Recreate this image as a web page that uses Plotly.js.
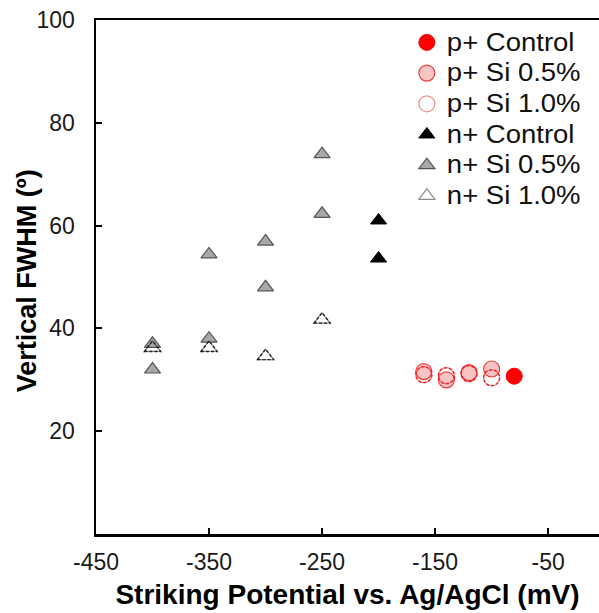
<!DOCTYPE html>
<html>
<head>
<meta charset="utf-8">
<script src="https://cdn.plot.ly/plotly-3.0.1.min.js"></script>
<style>
html,body{margin:0;padding:0;background:#fff;overflow:hidden;}
#chart{width:599px;height:613px;}
#chart .legend .scrollbox, #chart .legend g{clip-path:none !important;}
#chart .legend .legendtext{font-size:25px !important;transform-box:fill-box;transform-origin:0% 50%;transform:scaleX(1.1);}
</style>
</head>
<body>
<div id="chart"></div>
<script>
// Data
const seriesNames = ["p+ Control", "p+ Si 0.5%", "p+ Si 1.0%", "n+ Control", "n+ Si 0.5%", "n+ Si 1.0%"];

const pControlX = [-80];
const pControlY = [30.7];

const pSi05X = [-160, -140, -120, -100];
const pSi05Y = [31.6, 30.0, 31.4, 32.1];

const pSi10X = [-160, -140, -120, -100];
const pSi10Y = [31.0, 30.8, 31.2, 30.4];

const nControlX = [-200, -200];
const nControlY = [61.0, 53.6];

const nSi05X = [-400, -400, -350, -350, -300, -300, -250, -250];
const nSi05Y = [37.0, 32.0, 54.4, 38.0, 56.9, 48.0, 73.9, 62.3];

const nSi10X = [-400, -350, -300, -250];
const nSi10Y = [36.2, 36.2, 34.6, 41.7];

const xTickVals = [-450, -350, -250, -150, -50];
const yTickVals = [20, 40, 60, 80, 100];

const xTitle = "Striking Potential vs. Ag/AgCl (mV)";
const yTitle = "Vertical FWHM (º)";

const FONT = "Liberation Sans, Arial, Helvetica, sans-serif";

const traces = [
  {x: pControlX, y: pControlY, name: seriesNames[0], mode: "markers", type: "scatter",
   marker: {symbol: "circle", size: 16, color: "#ff0000", line: {color: "#ff0000", width: 1}}},
  {x: pSi05X, y: pSi05Y, name: seriesNames[1], mode: "markers", type: "scatter",
   marker: {symbol: "circle", size: 16, color: "#f9c4c4", line: {color: "#ee3b3b", width: 1.2}}},
  {x: pSi10X, y: pSi10Y, name: seriesNames[2], mode: "markers", type: "scatter",
   marker: {symbol: "circle", size: 16, color: "rgba(255,255,255,0)", line: {color: "rgba(238,34,34,0.55)", width: 1.2}}},
  {x: nControlX, y: nControlY, name: seriesNames[3], mode: "markers", type: "scatter",
   marker: {symbol: "triangle-up", size: 14, color: "#000000", line: {color: "#000000", width: 1}}},
  {x: nSi05X, y: nSi05Y, name: seriesNames[4], mode: "markers", type: "scatter",
   marker: {symbol: "triangle-up", size: 14, color: "#a8a8a8", line: {color: "#555555", width: 1.2}}},
  {x: nSi10X, y: nSi10Y, name: seriesNames[5], mode: "markers", type: "scatter",
   marker: {symbol: "triangle-up", size: 14, color: "rgba(255,255,255,0)", line: {color: "rgba(30,30,30,0.5)", width: 1.2}}}
];

// Dashed outlines for the 1.0% series, anchored at the data points (pixel-sized)
const dashedCircles = pSi10X.map((xv, i) => ({
  type: "circle", xref: "x", yref: "y", xsizemode: "pixel", ysizemode: "pixel",
  xanchor: xv, yanchor: pSi10Y[i], x0: -8, x1: 8, y0: -8, y1: 8,
  line: {color: "#ee2222", width: 1.4, dash: "3px,2px"}
}));
const rt = 7 * 2 / Math.sqrt(3);
const triPath = `M${-rt},-3.5 L${rt},-3.5 L0,7 Z`;
const dashedTriangles = nSi10X.map((xv, i) => ({
  type: "path", xref: "x", yref: "y", xsizemode: "pixel", ysizemode: "pixel",
  xanchor: xv, yanchor: nSi10Y[i], path: triPath,
  line: {color: "#222222", width: 1.4, dash: "3px,2px"}
}));

const layout = {
  width: 599, height: 613,
  margin: {l: 96, r: 0, t: 20, b: 79, pad: 0},
  paper_bgcolor: "#ffffff", plot_bgcolor: "#ffffff",
  font: {family: FONT, color: "#1a1a1a"},
  showlegend: true,
  legend: {
    x: 0.618, xanchor: "left", y: 0.996, yanchor: "top",
    bgcolor: "rgba(0,0,0,0)", borderwidth: 0,
    font: {family: FONT, size: 21.3, color: "#111111"},
    tracegroupgap: 0
  },
  shapes: [...dashedCircles, ...dashedTriangles],
  annotations: [{
    text: yTitle, xref: "paper", yref: "paper", x: -0.137, y: 0.492,
    xanchor: "center", yanchor: "middle", textangle: -90, showarrow: false,
    font: {family: FONT, size: 27, color: "#000", weight: "bold"}
  }],
  xaxis: {
    range: [-450, -5],
    tickmode: "array", tickvals: xTickVals, ticktext: xTickVals.map(String),
    ticks: "inside", ticklen: 6, tickwidth: 2, tickcolor: "#000",
    showline: true, linecolor: "#000", linewidth: 2.5, mirror: true,
    showgrid: false, zeroline: false,
    tickfont: {family: FONT, size: 23, color: "#1a1a1a"},
    ticklabelstandoff: 6,
    title: {text: xTitle, font: {family: FONT, size: 28, color: "#000", weight: "bold"}, standoff: 11},
    automargin: false
  },
  yaxis: {
    range: [0, 100],
    tickmode: "array", tickvals: yTickVals, ticktext: yTickVals.map(String),
    ticks: "inside", ticklen: 6, tickwidth: 2, tickcolor: "#000",
    showline: true, linecolor: "#000", linewidth: 2.5, mirror: false,
    showgrid: false, zeroline: false,
    tickfont: {family: FONT, size: 23, color: "#1a1a1a"},
    ticklabelstandoff: 14,
    automargin: false
  }
};

Plotly.newPlot("chart", traces, layout, {displayModeBar: false, staticPlot: true});
</script>
</body>
</html>
